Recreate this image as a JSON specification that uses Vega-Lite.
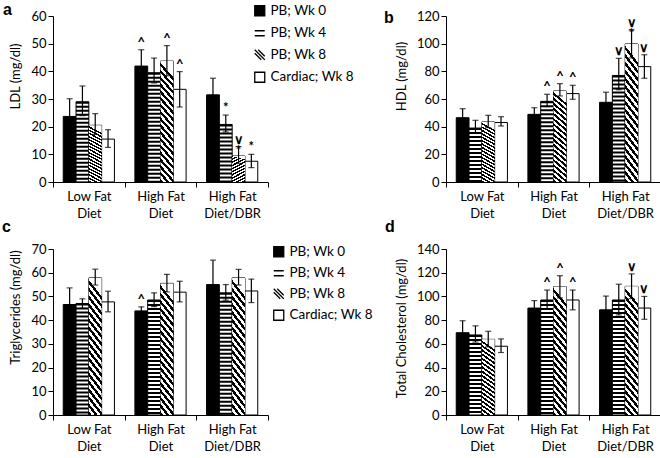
{
  "$schema": "https://vega.github.io/schema/vega-lite/v6.json",
  "padding": {"left": 2, "top": 2, "right": 0, "bottom": 0},
  "background": "white",
  "datasets": {
    "d": [
      {"p": "a", "diet": "Low Fat Diet", "series": "PB; Wk 0", "mean": 23.7, "lo": 17.3, "hi": 30.1, "ann": ""},
      {"p": "a", "diet": "Low Fat Diet", "series": "PB; Wk 4", "mean": 29, "lo": 24, "hi": 34.7, "ann": ""},
      {"p": "a", "diet": "Low Fat Diet", "series": "PB; Wk 8", "mean": 20.5, "lo": 17.2, "hi": 24.7, "ann": ""},
      {"p": "a", "diet": "Low Fat Diet", "series": "Cardiac; Wk 8", "mean": 15.5, "lo": 12.5, "hi": 18.9, "ann": ""},
      {"p": "a", "diet": "High Fat Diet", "series": "PB; Wk 0", "mean": 41.9, "lo": 36, "hi": 47.8, "ann": "^"},
      {"p": "a", "diet": "High Fat Diet", "series": "PB; Wk 4", "mean": 39.5, "lo": 35.8, "hi": 44.8, "ann": ""},
      {"p": "a", "diet": "High Fat Diet", "series": "PB; Wk 8", "mean": 43.7, "lo": 38.4, "hi": 49.3, "ann": "^"},
      {"p": "a", "diet": "High Fat Diet", "series": "Cardiac; Wk 8", "mean": 33.5, "lo": 27.1, "hi": 39.9, "ann": "^"},
      {"p": "a", "diet": "High Fat Diet/DBR", "series": "PB; Wk 0", "mean": 31.5, "lo": 25.5, "hi": 37.5, "ann": ""},
      {"p": "a", "diet": "High Fat Diet/DBR", "series": "PB; Wk 4", "mean": 20.8, "lo": 18.1, "hi": 24.2, "ann": "*"},
      {"p": "a", "diet": "High Fat Diet/DBR", "series": "PB; Wk 8", "mean": 9.4, "lo": 6.7, "hi": 12.8, "ann": "\u2228\n*"},
      {"p": "a", "diet": "High Fat Diet/DBR", "series": "Cardiac; Wk 8", "mean": 7.5, "lo": 5.2, "hi": 10, "ann": "*"},
      {"p": "b", "diet": "Low Fat Diet", "series": "PB; Wk 0", "mean": 46.5, "lo": 40, "hi": 53, "ann": ""},
      {"p": "b", "diet": "Low Fat Diet", "series": "PB; Wk 4", "mean": 39, "lo": 35.7, "hi": 44.6, "ann": ""},
      {"p": "b", "diet": "Low Fat Diet", "series": "PB; Wk 8", "mean": 43.4, "lo": 39.3, "hi": 48.2, "ann": ""},
      {"p": "b", "diet": "Low Fat Diet", "series": "Cardiac; Wk 8", "mean": 43, "lo": 40.5, "hi": 47.2, "ann": ""},
      {"p": "b", "diet": "High Fat Diet", "series": "PB; Wk 0", "mean": 48.9, "lo": 44, "hi": 53.7, "ann": ""},
      {"p": "b", "diet": "High Fat Diet", "series": "PB; Wk 4", "mean": 58.3, "lo": 54.5, "hi": 63.4, "ann": "^"},
      {"p": "b", "diet": "High Fat Diet", "series": "PB; Wk 8", "mean": 65.8, "lo": 62.2, "hi": 71.1, "ann": "^"},
      {"p": "b", "diet": "High Fat Diet", "series": "Cardiac; Wk 8", "mean": 63.9, "lo": 59.8, "hi": 69.9, "ann": "^"},
      {"p": "b", "diet": "High Fat Diet/DBR", "series": "PB; Wk 0", "mean": 57.6, "lo": 50.3, "hi": 64.9, "ann": ""},
      {"p": "b", "diet": "High Fat Diet/DBR", "series": "PB; Wk 4", "mean": 77, "lo": 66.7, "hi": 89.4, "ann": "\u2228"},
      {"p": "b", "diet": "High Fat Diet/DBR", "series": "PB; Wk 8", "mean": 99.8, "lo": 89.7, "hi": 109.9, "ann": "\u2228\n*"},
      {"p": "b", "diet": "High Fat Diet/DBR", "series": "Cardiac; Wk 8", "mean": 83.4, "lo": 75, "hi": 92, "ann": "\u2228"},
      {"p": "c", "diet": "Low Fat Diet", "series": "PB; Wk 0", "mean": 46.6, "lo": 39.6, "hi": 53.6, "ann": ""},
      {"p": "c", "diet": "Low Fat Diet", "series": "PB; Wk 4", "mean": 47, "lo": 45, "hi": 49, "ann": ""},
      {"p": "c", "diet": "Low Fat Diet", "series": "PB; Wk 8", "mean": 57.8, "lo": 54.8, "hi": 61.5, "ann": ""},
      {"p": "c", "diet": "Low Fat Diet", "series": "Cardiac; Wk 8", "mean": 47.7, "lo": 43.5, "hi": 52.2, "ann": ""},
      {"p": "c", "diet": "High Fat Diet", "series": "PB; Wk 0", "mean": 43.9, "lo": 42.2, "hi": 45.6, "ann": "^"},
      {"p": "c", "diet": "High Fat Diet", "series": "PB; Wk 4", "mean": 48.5, "lo": 45.7, "hi": 51.5, "ann": ""},
      {"p": "c", "diet": "High Fat Diet", "series": "PB; Wk 8", "mean": 55.5, "lo": 51.9, "hi": 59.3, "ann": ""},
      {"p": "c", "diet": "High Fat Diet", "series": "Cardiac; Wk 8", "mean": 51.8, "lo": 47.7, "hi": 56.4, "ann": ""},
      {"p": "c", "diet": "High Fat Diet/DBR", "series": "PB; Wk 0", "mean": 55, "lo": 44.7, "hi": 65.3, "ann": ""},
      {"p": "c", "diet": "High Fat Diet/DBR", "series": "PB; Wk 4", "mean": 51.5, "lo": 48.4, "hi": 55, "ann": ""},
      {"p": "c", "diet": "High Fat Diet/DBR", "series": "PB; Wk 8", "mean": 57.8, "lo": 54.8, "hi": 61.4, "ann": ""},
      {"p": "c", "diet": "High Fat Diet/DBR", "series": "Cardiac; Wk 8", "mean": 52.3, "lo": 47.4, "hi": 57.3, "ann": ""},
      {"p": "d", "diet": "Low Fat Diet", "series": "PB; Wk 0", "mean": 69.4, "lo": 59.4, "hi": 79.5, "ann": ""},
      {"p": "d", "diet": "Low Fat Diet", "series": "PB; Wk 4", "mean": 67.5, "lo": 61.5, "hi": 75.2, "ann": ""},
      {"p": "d", "diet": "Low Fat Diet", "series": "PB; Wk 8", "mean": 63.8, "lo": 57.5, "hi": 70.6, "ann": ""},
      {"p": "d", "diet": "Low Fat Diet", "series": "Cardiac; Wk 8", "mean": 58, "lo": 52.7, "hi": 64.2, "ann": ""},
      {"p": "d", "diet": "High Fat Diet", "series": "PB; Wk 0", "mean": 90.2, "lo": 84, "hi": 96.5, "ann": ""},
      {"p": "d", "diet": "High Fat Diet", "series": "PB; Wk 4", "mean": 97, "lo": 89.3, "hi": 105.4, "ann": "^"},
      {"p": "d", "diet": "High Fat Diet", "series": "PB; Wk 8", "mean": 108.3, "lo": 98.8, "hi": 117.5, "ann": "^"},
      {"p": "d", "diet": "High Fat Diet", "series": "Cardiac; Wk 8", "mean": 97, "lo": 88.7, "hi": 105.4, "ann": "^"},
      {"p": "d", "diet": "High Fat Diet/DBR", "series": "PB; Wk 0", "mean": 88.7, "lo": 77, "hi": 100.3, "ann": ""},
      {"p": "d", "diet": "High Fat Diet/DBR", "series": "PB; Wk 4", "mean": 97, "lo": 84.4, "hi": 110.3, "ann": ""},
      {"p": "d", "diet": "High Fat Diet/DBR", "series": "PB; Wk 8", "mean": 108.5, "lo": 98.2, "hi": 119, "ann": "\u2228"},
      {"p": "d", "diet": "High Fat Diet/DBR", "series": "Cardiac; Wk 8", "mean": 90.2, "lo": 80.7, "hi": 100, "ann": "\u2228"}
    ]
  },
  "columns": 2,
  "spacing": {"column": 178, "row": 67},
  "bounds": "flush",
  "resolve": {"scale": {"fill": "independent", "shape": "independent"}, "legend": {"fill": "independent", "shape": "independent"}},
  "concat": [
    {
      "width": 215, "height": 166,
      "title": {"text": "a", "anchor": "start", "frame": "group", "dx": -50, "dy": 27, "offset": 0, "baseline": "alphabetic", "fontSize": 16, "fontWeight": "bold", "font": "Liberation Sans", "color": "black"},
      "data": {"name": "d"},
      "transform": [{"filter": "datum.p == 'a'"}],
      "encoding": {
        "x": {"field": "diet", "type": "nominal", "scale": {"domain": ["Low Fat Diet", "High Fat Diet", "High Fat Diet/DBR"], "paddingInner": 0, "paddingOuter": 0},
          "axis": {"title": null, "labelAngle": 0, "tickBand": "extent", "labelExpr": "[trim(slice(datum.label, 0, indexof(datum.label, 'Diet'))), slice(datum.label, indexof(datum.label, 'Diet'))]", "labelLineHeight": 17, "labelPadding": 3, "labelBaseline": "top"}},
        "xOffset": {"field": "series", "type": "nominal", "scale": {"domain": ["PB; Wk 0", "PB; Wk 4", "PB; Wk 8", "Cardiac; Wk 8"], "paddingInner": 0, "paddingOuter": 0.8}}
      },
      "layer": [
        {"mark": {"type": "bar", "stroke": "black", "strokeWidth": 1},
          "encoding": {
            "y": {"field": "mean", "type": "quantitative", "scale": {"domain": [0, 60], "nice": false}, "axis": {"values": [0, 10, 20, 30, 40, 50, 60], "title": "LDL (mg/dl)", "titleY": 60}},
            "fill": {"field": "series", "type": "nominal", "scale": {"domain": ["PB; Wk 0", "PB; Wk 4", "PB; Wk 8", "Cardiac; Wk 8"], "range": ["black", "white", "white", "white"]},
              "legend": {"title": null, "orient": "none", "legendX": 200, "legendY": -12, "symbolOpacity": 1, "symbolSize": 100, "labelFontSize": 13.5, "labelOffset": 4, "rowPadding": 6.5, "padding": 0, "labelColor": "black", "encode": {"symbols": {"update": {"stroke": {"value": "black"}, "strokeWidth": {"value": 1.3}, "opacity": {"value": 1}}}}}}}},
        {"transform": [{"filter": "datum.series == 'PB; Wk 4'"}], "mark": {"type": "rule", "color": "black", "strokeWidth": 13, "strokeDash": [2, 2]},
          "encoding": {"y": {"field": "mean", "type": "quantitative", "axis": {"values": [0, 10, 20, 30, 40, 50, 60], "title": "LDL (mg/dl)", "titleY": 60}}, "y2": {"datum": 0}}},
        {"transform": [{"filter": "datum.series == 'PB; Wk 8'"}], "mark": {"type": "bar", "strokeWidth": 0, "fill": {"gradient": "linear", "x1": 0, "y1": 1, "x2": 0.12, "y2": 0, "stops": [
          {"offset": 0, "color": "black"}, {"offset": 0.02778, "color": "black"}, {"offset": 0.02778, "color": "white"}, {"offset": 0.05556, "color": "white"},
          {"offset": 0.05556, "color": "black"}, {"offset": 0.08333, "color": "black"}, {"offset": 0.08333, "color": "white"}, {"offset": 0.11111, "color": "white"},
          {"offset": 0.11111, "color": "black"}, {"offset": 0.13889, "color": "black"}, {"offset": 0.13889, "color": "white"}, {"offset": 0.16667, "color": "white"},
          {"offset": 0.16667, "color": "black"}, {"offset": 0.19444, "color": "black"}, {"offset": 0.19444, "color": "white"}, {"offset": 0.22222, "color": "white"},
          {"offset": 0.22222, "color": "black"}, {"offset": 0.25, "color": "black"}, {"offset": 0.25, "color": "white"}, {"offset": 0.27778, "color": "white"},
          {"offset": 0.27778, "color": "black"}, {"offset": 0.30556, "color": "black"}, {"offset": 0.30556, "color": "white"}, {"offset": 0.33333, "color": "white"},
          {"offset": 0.33333, "color": "black"}, {"offset": 0.36111, "color": "black"}, {"offset": 0.36111, "color": "white"}, {"offset": 0.38889, "color": "white"},
          {"offset": 0.38889, "color": "black"}, {"offset": 0.41667, "color": "black"}, {"offset": 0.41667, "color": "white"}, {"offset": 0.44444, "color": "white"},
          {"offset": 0.44444, "color": "black"}, {"offset": 0.47222, "color": "black"}, {"offset": 0.47222, "color": "white"}, {"offset": 0.5, "color": "white"},
          {"offset": 0.5, "color": "black"}, {"offset": 0.52778, "color": "black"}, {"offset": 0.52778, "color": "white"}, {"offset": 0.55556, "color": "white"},
          {"offset": 0.55556, "color": "black"}, {"offset": 0.58333, "color": "black"}, {"offset": 0.58333, "color": "white"}, {"offset": 0.61111, "color": "white"},
          {"offset": 0.61111, "color": "black"}, {"offset": 0.63889, "color": "black"}, {"offset": 0.63889, "color": "white"}, {"offset": 0.66667, "color": "white"},
          {"offset": 0.66667, "color": "black"}, {"offset": 0.69444, "color": "black"}, {"offset": 0.69444, "color": "white"}, {"offset": 0.72222, "color": "white"},
          {"offset": 0.72222, "color": "black"}, {"offset": 0.75, "color": "black"}, {"offset": 0.75, "color": "white"}, {"offset": 0.77778, "color": "white"},
          {"offset": 0.77778, "color": "black"}, {"offset": 0.80556, "color": "black"}, {"offset": 0.80556, "color": "white"}, {"offset": 0.83333, "color": "white"},
          {"offset": 0.83333, "color": "black"}, {"offset": 0.86111, "color": "black"}, {"offset": 0.86111, "color": "white"}, {"offset": 0.88889, "color": "white"},
          {"offset": 0.88889, "color": "black"}, {"offset": 0.91667, "color": "black"}, {"offset": 0.91667, "color": "white"}, {"offset": 0.94444, "color": "white"},
          {"offset": 0.94444, "color": "black"}, {"offset": 0.97222, "color": "black"}, {"offset": 0.97222, "color": "white"}, {"offset": 1, "color": "white"}]}},
          "encoding": {"y": {"field": "mean", "type": "quantitative", "axis": {"values": [0, 10, 20, 30, 40, 50, 60], "title": "LDL (mg/dl)", "titleY": 60}}}},
        {"mark": {"type": "rule", "color": "black", "strokeWidth": 1.2},
          "encoding": {"y": {"field": "lo", "type": "quantitative", "axis": {"values": [0, 10, 20, 30, 40, 50, 60], "title": "LDL (mg/dl)", "titleY": 60}}, "y2": {"field": "hi"}}},
        {"mark": {"type": "tick", "color": "black", "size": 6, "thickness": 1.2},
          "encoding": {"y": {"field": "hi", "type": "quantitative", "axis": {"values": [0, 10, 20, 30, 40, 50, 60], "title": "LDL (mg/dl)", "titleY": 60}}}},
        {"mark": {"type": "tick", "color": "black", "size": 6, "thickness": 1.2},
          "encoding": {"y": {"field": "lo", "type": "quantitative", "axis": {"values": [0, 10, 20, 30, 40, 50, 60], "title": "LDL (mg/dl)", "titleY": 60}}}},
        {"transform": [{"filter": "datum.ann != ''"}], "mark": {"type": "text", "baseline": "bottom", "fontSize": 13, "fontWeight": "bold", "lineBreak": "\n", "lineHeight": 11, "color": "black"},
          "encoding": {"y": {"field": "hi", "type": "quantitative", "axis": {"values": [0, 10, 20, 30, 40, 50, 60], "title": "LDL (mg/dl)", "titleY": 60}}, "text": {"field": "ann"}}},
        {"mark": {"type": "point", "filled": true, "opacity": 0},
          "encoding": {
            "y": {"field": "mean", "type": "quantitative", "axis": {"values": [0, 10, 20, 30, 40, 50, 60], "title": "LDL (mg/dl)", "titleY": 60}},
            "fill": {"field": "series", "type": "nominal", "scale": {"domain": ["PB; Wk 0", "PB; Wk 4", "PB; Wk 8", "Cardiac; Wk 8"], "range": ["black", "white", "white", "white"]},
              "legend": {"title": null, "orient": "none", "legendX": 200, "legendY": -12, "symbolOpacity": 1, "symbolSize": 100, "labelFontSize": 13.5, "labelOffset": 4, "rowPadding": 6.5, "padding": 0, "labelColor": "black", "encode": {"symbols": {"update": {"stroke": {"value": "black"}, "strokeWidth": {"value": 1.3}, "opacity": {"value": 1}}}}}},
            "shape": {"field": "series", "type": "nominal", "scale": {"domain": ["PB; Wk 0", "PB; Wk 4", "PB; Wk 8", "Cardiac; Wk 8"], "range": ["square", "M-1,-0.5H1M-1,0.5H1", "M-1,-1L1,1M-0.3,-1L1,0.3M-1,-0.3L0.3,1", "square"]},
              "legend": {"title": null, "orient": "none", "legendX": 200, "legendY": -12, "symbolOpacity": 1, "symbolSize": 100, "labelFontSize": 13.5, "labelOffset": 4, "rowPadding": 6.5, "padding": 0, "labelColor": "black", "encode": {"symbols": {"update": {"stroke": {"value": "black"}, "strokeWidth": {"value": 1.3}, "opacity": {"value": 1}}}}}}}}
      ]
    },
    {
      "width": 215, "height": 166,
      "title": {"text": "b", "anchor": "start", "frame": "group", "dx": -62, "dy": 29, "offset": 0, "baseline": "alphabetic", "fontSize": 16, "fontWeight": "bold", "font": "Liberation Sans", "color": "black"},
      "data": {"name": "d"},
      "transform": [{"filter": "datum.p == 'b'"}],
      "encoding": {
        "x": {"field": "diet", "type": "nominal", "scale": {"domain": ["Low Fat Diet", "High Fat Diet", "High Fat Diet/DBR"], "paddingInner": 0, "paddingOuter": 0},
          "axis": {"title": null, "labelAngle": 0, "tickBand": "extent", "labelExpr": "[trim(slice(datum.label, 0, indexof(datum.label, 'Diet'))), slice(datum.label, indexof(datum.label, 'Diet'))]", "labelLineHeight": 17, "labelPadding": 3, "labelBaseline": "top"}},
        "xOffset": {"field": "series", "type": "nominal", "scale": {"domain": ["PB; Wk 0", "PB; Wk 4", "PB; Wk 8", "Cardiac; Wk 8"], "paddingInner": 0, "paddingOuter": 0.8}}
      },
      "layer": [
        {"mark": {"type": "bar", "stroke": "black", "strokeWidth": 1},
          "encoding": {
            "y": {"field": "mean", "type": "quantitative", "scale": {"domain": [0, 120], "nice": false}, "axis": {"values": [0, 20, 40, 60, 80, 100, 120], "title": "HDL (mg/dl)", "titleY": 60}},
            "fill": {"field": "series", "type": "nominal", "scale": {"domain": ["PB; Wk 0", "PB; Wk 4", "PB; Wk 8", "Cardiac; Wk 8"], "range": ["black", "white", "white", "white"]}, "legend": null}}},
        {"transform": [{"filter": "datum.series == 'PB; Wk 4'"}], "mark": {"type": "rule", "color": "black", "strokeWidth": 13, "strokeDash": [2, 2]},
          "encoding": {"y": {"field": "mean", "type": "quantitative", "axis": {"values": [0, 20, 40, 60, 80, 100, 120], "title": "HDL (mg/dl)", "titleY": 60}}, "y2": {"datum": 0}}},
        {"transform": [{"filter": "datum.series == 'PB; Wk 8'"}], "mark": {"type": "bar", "strokeWidth": 0, "fill": {"gradient": "linear", "x1": 0, "y1": 1, "x2": 0.12, "y2": 0, "stops": [
          {"offset": 0, "color": "black"}, {"offset": 0.02778, "color": "black"}, {"offset": 0.02778, "color": "white"}, {"offset": 0.05556, "color": "white"},
          {"offset": 0.05556, "color": "black"}, {"offset": 0.08333, "color": "black"}, {"offset": 0.08333, "color": "white"}, {"offset": 0.11111, "color": "white"},
          {"offset": 0.11111, "color": "black"}, {"offset": 0.13889, "color": "black"}, {"offset": 0.13889, "color": "white"}, {"offset": 0.16667, "color": "white"},
          {"offset": 0.16667, "color": "black"}, {"offset": 0.19444, "color": "black"}, {"offset": 0.19444, "color": "white"}, {"offset": 0.22222, "color": "white"},
          {"offset": 0.22222, "color": "black"}, {"offset": 0.25, "color": "black"}, {"offset": 0.25, "color": "white"}, {"offset": 0.27778, "color": "white"},
          {"offset": 0.27778, "color": "black"}, {"offset": 0.30556, "color": "black"}, {"offset": 0.30556, "color": "white"}, {"offset": 0.33333, "color": "white"},
          {"offset": 0.33333, "color": "black"}, {"offset": 0.36111, "color": "black"}, {"offset": 0.36111, "color": "white"}, {"offset": 0.38889, "color": "white"},
          {"offset": 0.38889, "color": "black"}, {"offset": 0.41667, "color": "black"}, {"offset": 0.41667, "color": "white"}, {"offset": 0.44444, "color": "white"},
          {"offset": 0.44444, "color": "black"}, {"offset": 0.47222, "color": "black"}, {"offset": 0.47222, "color": "white"}, {"offset": 0.5, "color": "white"},
          {"offset": 0.5, "color": "black"}, {"offset": 0.52778, "color": "black"}, {"offset": 0.52778, "color": "white"}, {"offset": 0.55556, "color": "white"},
          {"offset": 0.55556, "color": "black"}, {"offset": 0.58333, "color": "black"}, {"offset": 0.58333, "color": "white"}, {"offset": 0.61111, "color": "white"},
          {"offset": 0.61111, "color": "black"}, {"offset": 0.63889, "color": "black"}, {"offset": 0.63889, "color": "white"}, {"offset": 0.66667, "color": "white"},
          {"offset": 0.66667, "color": "black"}, {"offset": 0.69444, "color": "black"}, {"offset": 0.69444, "color": "white"}, {"offset": 0.72222, "color": "white"},
          {"offset": 0.72222, "color": "black"}, {"offset": 0.75, "color": "black"}, {"offset": 0.75, "color": "white"}, {"offset": 0.77778, "color": "white"},
          {"offset": 0.77778, "color": "black"}, {"offset": 0.80556, "color": "black"}, {"offset": 0.80556, "color": "white"}, {"offset": 0.83333, "color": "white"},
          {"offset": 0.83333, "color": "black"}, {"offset": 0.86111, "color": "black"}, {"offset": 0.86111, "color": "white"}, {"offset": 0.88889, "color": "white"},
          {"offset": 0.88889, "color": "black"}, {"offset": 0.91667, "color": "black"}, {"offset": 0.91667, "color": "white"}, {"offset": 0.94444, "color": "white"},
          {"offset": 0.94444, "color": "black"}, {"offset": 0.97222, "color": "black"}, {"offset": 0.97222, "color": "white"}, {"offset": 1, "color": "white"}]}},
          "encoding": {"y": {"field": "mean", "type": "quantitative", "axis": {"values": [0, 20, 40, 60, 80, 100, 120], "title": "HDL (mg/dl)", "titleY": 60}}}},
        {"mark": {"type": "rule", "color": "black", "strokeWidth": 1.2},
          "encoding": {"y": {"field": "lo", "type": "quantitative", "axis": {"values": [0, 20, 40, 60, 80, 100, 120], "title": "HDL (mg/dl)", "titleY": 60}}, "y2": {"field": "hi"}}},
        {"mark": {"type": "tick", "color": "black", "size": 6, "thickness": 1.2},
          "encoding": {"y": {"field": "hi", "type": "quantitative", "axis": {"values": [0, 20, 40, 60, 80, 100, 120], "title": "HDL (mg/dl)", "titleY": 60}}}},
        {"mark": {"type": "tick", "color": "black", "size": 6, "thickness": 1.2},
          "encoding": {"y": {"field": "lo", "type": "quantitative", "axis": {"values": [0, 20, 40, 60, 80, 100, 120], "title": "HDL (mg/dl)", "titleY": 60}}}},
        {"transform": [{"filter": "datum.ann != ''"}], "mark": {"type": "text", "baseline": "bottom", "fontSize": 13, "fontWeight": "bold", "lineBreak": "\n", "lineHeight": 11, "color": "black"},
          "encoding": {"y": {"field": "hi", "type": "quantitative", "axis": {"values": [0, 20, 40, 60, 80, 100, 120], "title": "HDL (mg/dl)", "titleY": 60}}, "text": {"field": "ann"}}}
      ]
    },
    {
      "width": 215, "height": 166,
      "title": {"text": "c", "anchor": "start", "frame": "group", "dx": -51, "dy": 5, "offset": 0, "baseline": "alphabetic", "fontSize": 16, "fontWeight": "bold", "font": "Liberation Sans", "color": "black"},
      "data": {"name": "d"},
      "transform": [{"filter": "datum.p == 'c'"}],
      "encoding": {
        "x": {"field": "diet", "type": "nominal", "scale": {"domain": ["Low Fat Diet", "High Fat Diet", "High Fat Diet/DBR"], "paddingInner": 0, "paddingOuter": 0},
          "axis": {"title": null, "labelAngle": 0, "tickBand": "extent", "labelExpr": "[trim(slice(datum.label, 0, indexof(datum.label, 'Diet'))), slice(datum.label, indexof(datum.label, 'Diet'))]", "labelLineHeight": 17, "labelPadding": 3, "labelBaseline": "top"}},
        "xOffset": {"field": "series", "type": "nominal", "scale": {"domain": ["PB; Wk 0", "PB; Wk 4", "PB; Wk 8", "Cardiac; Wk 8"], "paddingInner": 0, "paddingOuter": 0.8}}
      },
      "layer": [
        {"mark": {"type": "bar", "stroke": "black", "strokeWidth": 1},
          "encoding": {
            "y": {"field": "mean", "type": "quantitative", "scale": {"domain": [0, 70], "nice": false}, "axis": {"values": [0, 10, 20, 30, 40, 50, 60, 70], "title": "Triglycerides (mg/dl)", "titleY": 58}},
            "fill": {"field": "series", "type": "nominal", "scale": {"domain": ["PB; Wk 0", "PB; Wk 4", "PB; Wk 8", "Cardiac; Wk 8"], "range": ["black", "white", "white", "white"]},
              "legend": {"title": null, "orient": "none", "legendX": 219, "legendY": -4, "symbolOpacity": 1, "symbolSize": 100, "labelFontSize": 13.5, "labelOffset": 4, "rowPadding": 5.5, "padding": 0, "labelColor": "black", "encode": {"symbols": {"update": {"stroke": {"value": "black"}, "strokeWidth": {"value": 1.3}, "opacity": {"value": 1}}}}}}}},
        {"transform": [{"filter": "datum.series == 'PB; Wk 4'"}], "mark": {"type": "rule", "color": "black", "strokeWidth": 13, "strokeDash": [2, 2]},
          "encoding": {"y": {"field": "mean", "type": "quantitative", "axis": {"values": [0, 10, 20, 30, 40, 50, 60, 70], "title": "Triglycerides (mg/dl)", "titleY": 58}}, "y2": {"datum": 0}}},
        {"transform": [{"filter": "datum.series == 'PB; Wk 8'"}], "mark": {"type": "bar", "strokeWidth": 0, "fill": {"gradient": "linear", "x1": 0, "y1": 1, "x2": 0.12, "y2": 0, "stops": [
          {"offset": 0, "color": "black"}, {"offset": 0.02778, "color": "black"}, {"offset": 0.02778, "color": "white"}, {"offset": 0.05556, "color": "white"},
          {"offset": 0.05556, "color": "black"}, {"offset": 0.08333, "color": "black"}, {"offset": 0.08333, "color": "white"}, {"offset": 0.11111, "color": "white"},
          {"offset": 0.11111, "color": "black"}, {"offset": 0.13889, "color": "black"}, {"offset": 0.13889, "color": "white"}, {"offset": 0.16667, "color": "white"},
          {"offset": 0.16667, "color": "black"}, {"offset": 0.19444, "color": "black"}, {"offset": 0.19444, "color": "white"}, {"offset": 0.22222, "color": "white"},
          {"offset": 0.22222, "color": "black"}, {"offset": 0.25, "color": "black"}, {"offset": 0.25, "color": "white"}, {"offset": 0.27778, "color": "white"},
          {"offset": 0.27778, "color": "black"}, {"offset": 0.30556, "color": "black"}, {"offset": 0.30556, "color": "white"}, {"offset": 0.33333, "color": "white"},
          {"offset": 0.33333, "color": "black"}, {"offset": 0.36111, "color": "black"}, {"offset": 0.36111, "color": "white"}, {"offset": 0.38889, "color": "white"},
          {"offset": 0.38889, "color": "black"}, {"offset": 0.41667, "color": "black"}, {"offset": 0.41667, "color": "white"}, {"offset": 0.44444, "color": "white"},
          {"offset": 0.44444, "color": "black"}, {"offset": 0.47222, "color": "black"}, {"offset": 0.47222, "color": "white"}, {"offset": 0.5, "color": "white"},
          {"offset": 0.5, "color": "black"}, {"offset": 0.52778, "color": "black"}, {"offset": 0.52778, "color": "white"}, {"offset": 0.55556, "color": "white"},
          {"offset": 0.55556, "color": "black"}, {"offset": 0.58333, "color": "black"}, {"offset": 0.58333, "color": "white"}, {"offset": 0.61111, "color": "white"},
          {"offset": 0.61111, "color": "black"}, {"offset": 0.63889, "color": "black"}, {"offset": 0.63889, "color": "white"}, {"offset": 0.66667, "color": "white"},
          {"offset": 0.66667, "color": "black"}, {"offset": 0.69444, "color": "black"}, {"offset": 0.69444, "color": "white"}, {"offset": 0.72222, "color": "white"},
          {"offset": 0.72222, "color": "black"}, {"offset": 0.75, "color": "black"}, {"offset": 0.75, "color": "white"}, {"offset": 0.77778, "color": "white"},
          {"offset": 0.77778, "color": "black"}, {"offset": 0.80556, "color": "black"}, {"offset": 0.80556, "color": "white"}, {"offset": 0.83333, "color": "white"},
          {"offset": 0.83333, "color": "black"}, {"offset": 0.86111, "color": "black"}, {"offset": 0.86111, "color": "white"}, {"offset": 0.88889, "color": "white"},
          {"offset": 0.88889, "color": "black"}, {"offset": 0.91667, "color": "black"}, {"offset": 0.91667, "color": "white"}, {"offset": 0.94444, "color": "white"},
          {"offset": 0.94444, "color": "black"}, {"offset": 0.97222, "color": "black"}, {"offset": 0.97222, "color": "white"}, {"offset": 1, "color": "white"}]}},
          "encoding": {"y": {"field": "mean", "type": "quantitative", "axis": {"values": [0, 10, 20, 30, 40, 50, 60, 70], "title": "Triglycerides (mg/dl)", "titleY": 58}}}},
        {"mark": {"type": "rule", "color": "black", "strokeWidth": 1.2},
          "encoding": {"y": {"field": "lo", "type": "quantitative", "axis": {"values": [0, 10, 20, 30, 40, 50, 60, 70], "title": "Triglycerides (mg/dl)", "titleY": 58}}, "y2": {"field": "hi"}}},
        {"mark": {"type": "tick", "color": "black", "size": 6, "thickness": 1.2},
          "encoding": {"y": {"field": "hi", "type": "quantitative", "axis": {"values": [0, 10, 20, 30, 40, 50, 60, 70], "title": "Triglycerides (mg/dl)", "titleY": 58}}}},
        {"mark": {"type": "tick", "color": "black", "size": 6, "thickness": 1.2},
          "encoding": {"y": {"field": "lo", "type": "quantitative", "axis": {"values": [0, 10, 20, 30, 40, 50, 60, 70], "title": "Triglycerides (mg/dl)", "titleY": 58}}}},
        {"transform": [{"filter": "datum.ann != ''"}], "mark": {"type": "text", "baseline": "bottom", "fontSize": 13, "fontWeight": "bold", "lineBreak": "\n", "lineHeight": 11, "color": "black"},
          "encoding": {"y": {"field": "hi", "type": "quantitative", "axis": {"values": [0, 10, 20, 30, 40, 50, 60, 70], "title": "Triglycerides (mg/dl)", "titleY": 58}}, "text": {"field": "ann"}}},
        {"mark": {"type": "point", "filled": true, "opacity": 0},
          "encoding": {
            "y": {"field": "mean", "type": "quantitative", "axis": {"values": [0, 10, 20, 30, 40, 50, 60, 70], "title": "Triglycerides (mg/dl)", "titleY": 58}},
            "fill": {"field": "series", "type": "nominal", "scale": {"domain": ["PB; Wk 0", "PB; Wk 4", "PB; Wk 8", "Cardiac; Wk 8"], "range": ["black", "white", "white", "white"]},
              "legend": {"title": null, "orient": "none", "legendX": 219, "legendY": -4, "symbolOpacity": 1, "symbolSize": 100, "labelFontSize": 13.5, "labelOffset": 4, "rowPadding": 5.5, "padding": 0, "labelColor": "black", "encode": {"symbols": {"update": {"stroke": {"value": "black"}, "strokeWidth": {"value": 1.3}, "opacity": {"value": 1}}}}}},
            "shape": {"field": "series", "type": "nominal", "scale": {"domain": ["PB; Wk 0", "PB; Wk 4", "PB; Wk 8", "Cardiac; Wk 8"], "range": ["square", "M-1,-0.5H1M-1,0.5H1", "M-1,-1L1,1M-0.3,-1L1,0.3M-1,-0.3L0.3,1", "square"]},
              "legend": {"title": null, "orient": "none", "legendX": 219, "legendY": -4, "symbolOpacity": 1, "symbolSize": 100, "labelFontSize": 13.5, "labelOffset": 4, "rowPadding": 5.5, "padding": 0, "labelColor": "black", "encode": {"symbols": {"update": {"stroke": {"value": "black"}, "strokeWidth": {"value": 1.3}, "opacity": {"value": 1}}}}}}}}
      ]
    },
    {
      "width": 215, "height": 166,
      "title": {"text": "d", "anchor": "start", "frame": "group", "dx": -61, "dy": 5, "offset": 0, "baseline": "alphabetic", "fontSize": 16, "fontWeight": "bold", "font": "Liberation Sans", "color": "black"},
      "data": {"name": "d"},
      "transform": [{"filter": "datum.p == 'd'"}],
      "encoding": {
        "x": {"field": "diet", "type": "nominal", "scale": {"domain": ["Low Fat Diet", "High Fat Diet", "High Fat Diet/DBR"], "paddingInner": 0, "paddingOuter": 0},
          "axis": {"title": null, "labelAngle": 0, "tickBand": "extent", "labelExpr": "[trim(slice(datum.label, 0, indexof(datum.label, 'Diet'))), slice(datum.label, indexof(datum.label, 'Diet'))]", "labelLineHeight": 17, "labelPadding": 3, "labelBaseline": "top"}},
        "xOffset": {"field": "series", "type": "nominal", "scale": {"domain": ["PB; Wk 0", "PB; Wk 4", "PB; Wk 8", "Cardiac; Wk 8"], "paddingInner": 0, "paddingOuter": 0.8}}
      },
      "layer": [
        {"mark": {"type": "bar", "stroke": "black", "strokeWidth": 1},
          "encoding": {
            "y": {"field": "mean", "type": "quantitative", "scale": {"domain": [0, 140], "nice": false}, "axis": {"values": [0, 20, 40, 60, 80, 100, 120, 140], "title": "Total Cholesterol (mg/dl)", "titleY": 79}},
            "fill": {"field": "series", "type": "nominal", "scale": {"domain": ["PB; Wk 0", "PB; Wk 4", "PB; Wk 8", "Cardiac; Wk 8"], "range": ["black", "white", "white", "white"]}, "legend": null}}},
        {"transform": [{"filter": "datum.series == 'PB; Wk 4'"}], "mark": {"type": "rule", "color": "black", "strokeWidth": 13, "strokeDash": [2, 2]},
          "encoding": {"y": {"field": "mean", "type": "quantitative", "axis": {"values": [0, 20, 40, 60, 80, 100, 120, 140], "title": "Total Cholesterol (mg/dl)", "titleY": 79}}, "y2": {"datum": 0}}},
        {"transform": [{"filter": "datum.series == 'PB; Wk 8'"}], "mark": {"type": "bar", "strokeWidth": 0, "fill": {"gradient": "linear", "x1": 0, "y1": 1, "x2": 0.12, "y2": 0, "stops": [
          {"offset": 0, "color": "black"}, {"offset": 0.02778, "color": "black"}, {"offset": 0.02778, "color": "white"}, {"offset": 0.05556, "color": "white"},
          {"offset": 0.05556, "color": "black"}, {"offset": 0.08333, "color": "black"}, {"offset": 0.08333, "color": "white"}, {"offset": 0.11111, "color": "white"},
          {"offset": 0.11111, "color": "black"}, {"offset": 0.13889, "color": "black"}, {"offset": 0.13889, "color": "white"}, {"offset": 0.16667, "color": "white"},
          {"offset": 0.16667, "color": "black"}, {"offset": 0.19444, "color": "black"}, {"offset": 0.19444, "color": "white"}, {"offset": 0.22222, "color": "white"},
          {"offset": 0.22222, "color": "black"}, {"offset": 0.25, "color": "black"}, {"offset": 0.25, "color": "white"}, {"offset": 0.27778, "color": "white"},
          {"offset": 0.27778, "color": "black"}, {"offset": 0.30556, "color": "black"}, {"offset": 0.30556, "color": "white"}, {"offset": 0.33333, "color": "white"},
          {"offset": 0.33333, "color": "black"}, {"offset": 0.36111, "color": "black"}, {"offset": 0.36111, "color": "white"}, {"offset": 0.38889, "color": "white"},
          {"offset": 0.38889, "color": "black"}, {"offset": 0.41667, "color": "black"}, {"offset": 0.41667, "color": "white"}, {"offset": 0.44444, "color": "white"},
          {"offset": 0.44444, "color": "black"}, {"offset": 0.47222, "color": "black"}, {"offset": 0.47222, "color": "white"}, {"offset": 0.5, "color": "white"},
          {"offset": 0.5, "color": "black"}, {"offset": 0.52778, "color": "black"}, {"offset": 0.52778, "color": "white"}, {"offset": 0.55556, "color": "white"},
          {"offset": 0.55556, "color": "black"}, {"offset": 0.58333, "color": "black"}, {"offset": 0.58333, "color": "white"}, {"offset": 0.61111, "color": "white"},
          {"offset": 0.61111, "color": "black"}, {"offset": 0.63889, "color": "black"}, {"offset": 0.63889, "color": "white"}, {"offset": 0.66667, "color": "white"},
          {"offset": 0.66667, "color": "black"}, {"offset": 0.69444, "color": "black"}, {"offset": 0.69444, "color": "white"}, {"offset": 0.72222, "color": "white"},
          {"offset": 0.72222, "color": "black"}, {"offset": 0.75, "color": "black"}, {"offset": 0.75, "color": "white"}, {"offset": 0.77778, "color": "white"},
          {"offset": 0.77778, "color": "black"}, {"offset": 0.80556, "color": "black"}, {"offset": 0.80556, "color": "white"}, {"offset": 0.83333, "color": "white"},
          {"offset": 0.83333, "color": "black"}, {"offset": 0.86111, "color": "black"}, {"offset": 0.86111, "color": "white"}, {"offset": 0.88889, "color": "white"},
          {"offset": 0.88889, "color": "black"}, {"offset": 0.91667, "color": "black"}, {"offset": 0.91667, "color": "white"}, {"offset": 0.94444, "color": "white"},
          {"offset": 0.94444, "color": "black"}, {"offset": 0.97222, "color": "black"}, {"offset": 0.97222, "color": "white"}, {"offset": 1, "color": "white"}]}},
          "encoding": {"y": {"field": "mean", "type": "quantitative", "axis": {"values": [0, 20, 40, 60, 80, 100, 120, 140], "title": "Total Cholesterol (mg/dl)", "titleY": 79}}}},
        {"mark": {"type": "rule", "color": "black", "strokeWidth": 1.2},
          "encoding": {"y": {"field": "lo", "type": "quantitative", "axis": {"values": [0, 20, 40, 60, 80, 100, 120, 140], "title": "Total Cholesterol (mg/dl)", "titleY": 79}}, "y2": {"field": "hi"}}},
        {"mark": {"type": "tick", "color": "black", "size": 6, "thickness": 1.2},
          "encoding": {"y": {"field": "hi", "type": "quantitative", "axis": {"values": [0, 20, 40, 60, 80, 100, 120, 140], "title": "Total Cholesterol (mg/dl)", "titleY": 79}}}},
        {"mark": {"type": "tick", "color": "black", "size": 6, "thickness": 1.2},
          "encoding": {"y": {"field": "lo", "type": "quantitative", "axis": {"values": [0, 20, 40, 60, 80, 100, 120, 140], "title": "Total Cholesterol (mg/dl)", "titleY": 79}}}},
        {"transform": [{"filter": "datum.ann != ''"}], "mark": {"type": "text", "baseline": "bottom", "fontSize": 13, "fontWeight": "bold", "lineBreak": "\n", "lineHeight": 11, "color": "black"},
          "encoding": {"y": {"field": "hi", "type": "quantitative", "axis": {"values": [0, 20, 40, 60, 80, 100, 120, 140], "title": "Total Cholesterol (mg/dl)", "titleY": 79}}, "text": {"field": "ann"}}}
      ]
    }
  ],
  "config": {
    "font": "Lato",
    "view": {"stroke": null},
    "axis": {"grid": false, "domainColor": "black", "tickColor": "black", "labelColor": "black", "titleColor": "black", "labelFontSize": 13, "titleFontSize": 13, "titleFontWeight": "normal", "tickSize": 5, "labelFont": "Lato", "titleFont": "Lato"},
    "axisY": {"titlePadding": 8},
    "legend": {"labelFont": "Lato"}
  }
}
